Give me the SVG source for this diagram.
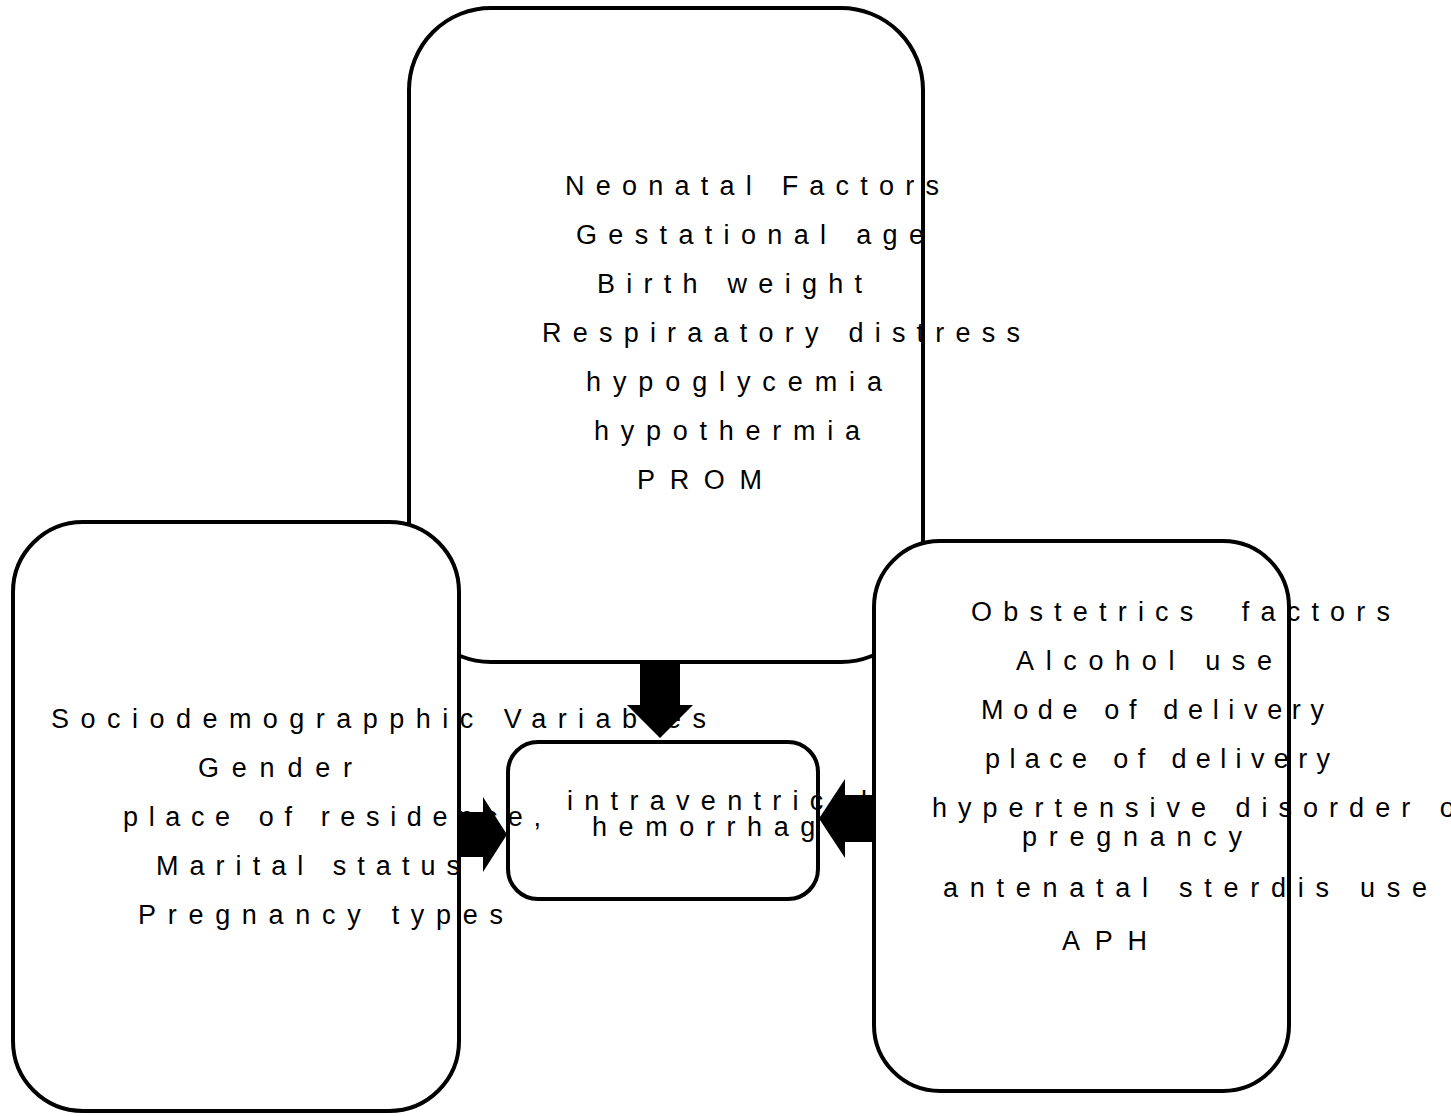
<svg xmlns="http://www.w3.org/2000/svg" width="1451" height="1116" viewBox="0 0 1451 1116">
<style>
.box{fill:#fff;stroke:#000;stroke-width:4}
.t{font-family:"Liberation Sans",Arial,sans-serif;font-size:27px;fill:#000}
.arr{fill:#000;stroke:none}
</style>
<rect width="1451" height="1116" fill="#fff"/>
<g id="node-neonatal">
<rect class="box" x="409" y="8" width="514" height="654" rx="82" ry="82"/>
<text class="t" x="565" y="195" textLength="374" lengthAdjust="spacing">Neonatal Factors</text>
<text class="t" x="576" y="244" textLength="348" lengthAdjust="spacing">Gestational age</text>
<text class="t" x="597" y="293" textLength="265" lengthAdjust="spacing">Birth weight</text>
<text class="t" x="542" y="342" textLength="478" lengthAdjust="spacing">Respiraatory distress</text>
<text class="t" x="586" y="391" textLength="296" lengthAdjust="spacing">hypoglycemia</text>
<text class="t" x="594" y="440" textLength="266" lengthAdjust="spacing">hypothermia</text>
<text class="t" x="637" y="489" textLength="125" lengthAdjust="spacing">PROM</text>
</g>
<g id="node-ivh">
<rect class="box" x="508" y="742" width="310" height="157" rx="30" ry="30"/>
<text class="t" x="567" y="810" style="letter-spacing:11.3px">intraventricular</text>
<text class="t" x="592" y="836" style="letter-spacing:11.6px">hemorrhage</text>
</g>
<g id="node-obstetrics">
<rect class="box" x="874" y="541" width="415" height="550" rx="66" ry="66"/>
<text class="t" x="971" y="621" textLength="419" lengthAdjust="spacing" xml:space="preserve">Obstetrics  factors</text>
<text class="t" x="1016" y="670" textLength="256" lengthAdjust="spacing">Alcohol use</text>
<text class="t" x="981" y="719" textLength="343" lengthAdjust="spacing">Mode of delivery</text>
<text class="t" x="985" y="768" textLength="345" lengthAdjust="spacing">place of delivery</text>
<text class="t" x="932" y="817" style="letter-spacing:11px">hypertensive disorder of</text>
<text class="t" x="1022" y="846" textLength="220" lengthAdjust="spacing">pregnancy</text>
<text class="t" x="943" y="897" textLength="484" lengthAdjust="spacing">antenatal sterdis use</text>
<text class="t" x="1062" y="950" textLength="85" lengthAdjust="spacing">APH</text>
</g>
<g id="node-sociodemographic">
<rect class="box" x="13" y="522" width="446" height="589" rx="70" ry="70"/>
<text class="t" x="51" y="728" textLength="655" lengthAdjust="spacing">Sociodemograpphic Variables</text>
<text class="t" x="198" y="777" textLength="154" lengthAdjust="spacing">Gender</text>
<text class="t" x="123" y="826" textLength="418" lengthAdjust="spacing">place of residence,</text>
<text class="t" x="156" y="875" textLength="304" lengthAdjust="spacing">Marital status</text>
<text class="t" x="138" y="924" textLength="365" lengthAdjust="spacing">Pregnancy types</text>
</g>
<g id="connectors">
<polygon class="arr" points="640,662 680,662 680,705 693,705 660,738 627,705 640,705"/>
<polygon class="arr" points="459,812 483,812 483,797 507,834.5 483,872 483,857 459,857"/>
<polygon class="arr" points="874,795 845,795 845,779 819,818.5 845,858 845,842 874,842"/>
</g>
</svg>
